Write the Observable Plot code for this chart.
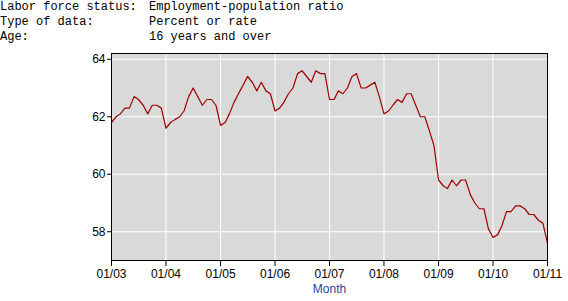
<!DOCTYPE html>
<html>
<head>
<meta charset="utf-8">
<script src="https://cdn.jsdelivr.net/npm/d3@7"></script>
<script src="https://cdn.jsdelivr.net/npm/@observablehq/plot@0.6"></script>
<style>
  html, body { margin: 0; padding: 0; background: #fff; width: 568px; height: 301px; overflow: hidden; }
  #header { position: relative; height: 45px; font-family: "Liberation Mono", "Courier New", monospace; font-size: 12px; line-height: 15px; color: #000; }
  #header .row { position: relative; height: 15px; white-space: pre; }
  #header .k { position: absolute; left: 0; top: 0; }
  #header .v { position: absolute; left: 149px; top: 0; }
  #chart svg { display: block; }
</style>
</head>
<body>
<div id="header"></div>
<div id="chart"></div>
<script>
// Header metadata
const headerKeys = ["Labor force status:", "Type of data:", "Age:"];
const headerValues = ["Employment-population ratio", "Percent or rate", "16 years and over"];

// Monthly values, Jan 2003 .. Jan 2011 (percent)
const startYear = 2003;
const values = [
  61.8, 62.0, 62.1, 62.3, 62.3, 62.7, 62.6, 62.4, 62.1, 62.4, 62.4, 62.3, // 2003
  61.6, 61.8, 61.9, 62.0, 62.2, 62.7, 63.0, 62.7, 62.4, 62.6, 62.6, 62.4, // 2004
  61.7, 61.8, 62.1, 62.5, 62.8, 63.1, 63.4, 63.2, 62.9, 63.2, 62.9, 62.8, // 2005
  62.2, 62.3, 62.5, 62.8, 63.0, 63.5, 63.6, 63.4, 63.2, 63.6, 63.5, 63.5, // 2006
  62.6, 62.6, 62.9, 62.8, 63.0, 63.4, 63.5, 63.0, 63.0, 63.1, 63.2, 62.7, // 2007
  62.1, 62.2, 62.4, 62.6, 62.5, 62.8, 62.8, 62.4, 62.0, 62.0, 61.5, 61.0, // 2008
  59.8, 59.6, 59.5, 59.8, 59.6, 59.8, 59.8, 59.3, 59.0, 58.8, 58.8, 58.1, // 2009
  57.8, 57.9, 58.2, 58.7, 58.7, 58.9, 58.9, 58.8, 58.6, 58.6, 58.4, 58.3, // 2010
  57.6                                                                    // 2011
];
const yTicks = [58, 60, 62, 64];
const xTickYears = [2003, 2004, 2005, 2006, 2007, 2008, 2009, 2010, 2011];
const xLabel = "Month";

const header = document.getElementById("header");
headerKeys.forEach((k, i) => {
  const row = document.createElement("div");
  row.className = "row";
  const a = document.createElement("span"); a.className = "k"; a.textContent = k;
  const b = document.createElement("span"); b.className = "v"; b.textContent = headerValues[i];
  row.appendChild(a); row.appendChild(b);
  header.appendChild(row);
});

const data = values.map((v, i) => ({
  date: new Date(Date.UTC(startYear, i, 1)),
  value: v
}));
const xTicks = xTickYears.map(y => new Date(Date.UTC(y, 0, 1)));

const chart = Plot.plot({
  width: 568,
  height: 256,
  marginLeft: 111,
  marginRight: 21,
  marginTop: 8,
  marginBottom: 41,
  style: { fontFamily: "'Liberation Sans', Arial, sans-serif", fontSize: "12px", background: "#fff", color: "#000" },
  x: { type: "utc", domain: [xTicks[0], xTicks[xTicks.length - 1]] },
  y: { domain: [57, 64.2] },
  marks: [
    Plot.frame({ fill: "#d9d9d9", stroke: "none" }),
    Plot.gridX(xTicks, { stroke: "#fff", strokeOpacity: 1, strokeWidth: 1 }),
    Plot.gridY(yTicks, { stroke: "#fff", strokeOpacity: 1, strokeWidth: 1 }),
    Plot.line(data, { x: "date", y: "value", stroke: "#a00000", strokeWidth: 1.2 }),
    Plot.frame({ stroke: "#000", strokeWidth: 1 }),
    Plot.axisX({ ticks: xTicks, tickFormat: d3.utcFormat("%m/%y"), tickSize: 6, tickPadding: 3, label: null }),
    Plot.axisY({ ticks: yTicks, tickSize: 4, tickPadding: 2, label: null }),
    Plot.text([xLabel], { frameAnchor: "bottom", dy: 32, fill: "#1f3f99", fontSize: 12 })
  ]
});
document.getElementById("chart").appendChild(chart);
</script>
</body>
</html>
